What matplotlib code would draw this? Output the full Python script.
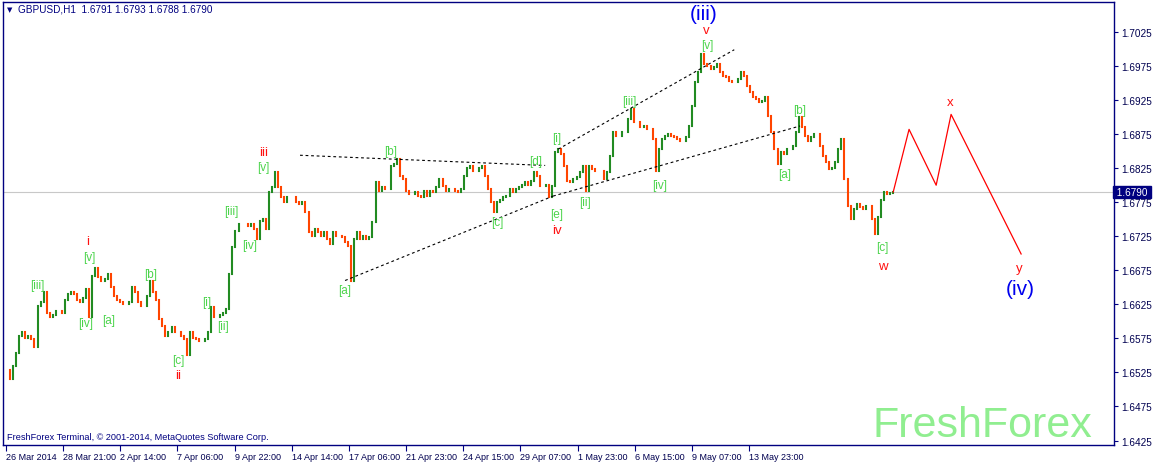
import matplotlib
matplotlib.use("Agg")
import matplotlib.pyplot as plt
from matplotlib.collections import LineCollection
import matplotlib.transforms as mtransforms

# ---- data ---------------------------------------------------------------
# closing prices, one value per drawn bar (left to right)
closes = [
    1.6529, 1.6515, 1.6534, 1.6554, 1.6578, 1.6584, 1.6576, 1.6578, 1.6574, 1.6563,
    1.6622, 1.6628, 1.6643, 1.6613, 1.6607, 1.6610, 1.6615, 1.6615, 1.6613, 1.6632,
    1.6640, 1.6643, 1.6640, 1.6632, 1.6629, 1.6635, 1.6647, 1.6607, 1.6666, 1.6679,
    1.6665, 1.6659, 1.6662, 1.6669, 1.6650, 1.6637, 1.6632, 1.6628, 1.6625, 1.6625,
    1.6629, 1.6650, 1.6643, 1.6628, 1.6622, 1.6622, 1.6637, 1.6659, 1.6643, 1.6632,
    1.6603, 1.6593, 1.6578, 1.6585, 1.6591, 1.6585, 1.6584, 1.6578, 1.6574, 1.6551,
    1.6584, 1.6576, 1.6574, 1.6571, 1.6571, 1.6574, 1.6584, 1.6621, 1.6606, 1.6606,
    1.6610, 1.6613, 1.6618, 1.6669, 1.6709, 1.6732,
    1.6743, 1.6743, 1.6743, 1.6740, 1.6743, 1.6735, 1.6721, 1.6747, 1.6750, 1.6735,
    1.6790, 1.6797, 1.6819, 1.6797, 1.6782, 1.6776, 1.6782, 1.6782, 1.6782, 1.6775,
    1.6772, 1.6776, 1.6760, 1.6731, 1.6725, 1.6735, 1.6731, 1.6725, 1.6731, 1.6721,
    1.6713, 1.6731, 1.6725, 1.6725, 1.6724, 1.6716, 1.6710, 1.6659, 1.6721, 1.6731,
    1.6721, 1.6725, 1.6721, 1.6724, 1.6746, 1.6804, 1.6791, 1.6797, 1.6794, 1.6794,
    1.6828, 1.6831, 1.6838, 1.6813, 1.6809, 1.6791, 1.6787, 1.6787, 1.6790, 1.6784,
    1.6782, 1.6791, 1.6784, 1.6791, 1.6790, 1.6797, 1.6809, 1.6799, 1.6791, 1.6794,
    1.6794, 1.6791, 1.6790, 1.6794, 1.6813, 1.6826, 1.6828, 1.6821, 1.6821, 1.6826,
    1.6828, 1.6813, 1.6794, 1.6775, 1.6760, 1.6776, 1.6779, 1.6782, 1.6784, 1.6794,
    1.6790, 1.6794, 1.6797, 1.6801, 1.6804, 1.6801, 1.6806, 1.6819, 1.6813, 1.6799,
    1.6799, 1.6801, 1.6782, 1.6799, 1.6849, 1.6853, 1.6846, 1.6828, 1.6806, 1.6804,
    1.6809, 1.6812, 1.6819, 1.6828, 1.6791, 1.6828, 1.6824, 1.6821, 1.6821, 1.6821,
    1.6809, 1.6819, 1.6843, 1.6878, 1.6872, 1.6872, 1.6878, 1.6878, 1.6897, 1.6912,
    1.6893, 1.6893, 1.6885, 1.6887, 1.6882, 1.6882, 1.6868, 1.6821, 1.6853, 1.6868,
    1.6872, 1.6875,
    1.6872, 1.6871, 1.6868, 1.6865, 1.6865, 1.6871, 1.6887, 1.6916, 1.6951, 1.6966,
    1.6993, 1.6978, 1.6975, 1.6971, 1.6974, 1.6978, 1.6966, 1.6960, 1.6959, 1.6953,
    1.6951, 1.6951, 1.6956, 1.6966, 1.6960, 1.6946, 1.6937, 1.6929, 1.6926, 1.6922,
    1.6924, 1.6929, 1.6901, 1.6878, 1.6853, 1.6831, 1.6849, 1.6846, 1.6853, 1.6853,
    1.6857, 1.6878, 1.6900, 1.6885, 1.6872, 1.6865, 1.6871, 1.6875, 1.6875, 1.6857,
    1.6843, 1.6834, 1.6824, 1.6826, 1.6834, 1.6853, 1.6868, 1.6809, 1.6769, 1.6750,
    1.6765, 1.6772, 1.6768, 1.6765, 1.6769, 1.6769, 1.6750, 1.6728, 1.6754, 1.6779,
    1.6790, 1.6787, 1.6788, 1.6790,
]

time_labels = ["26 Mar 2014", "28 Mar 21:00", "2 Apr 14:00", "7 Apr 06:00",
               "9 Apr 22:00", "14 Apr 14:00", "17 Apr 06:00", "21 Apr 23:00",
               "24 Apr 15:00", "29 Apr 07:00", "1 May 23:00", "6 May 15:00",
               "9 May 07:00", "13 May 23:00"]

price_ticks = [1.6425, 1.6475, 1.6525, 1.6575, 1.6625, 1.6675, 1.6725,
               1.6775, 1.6825, 1.6875, 1.6925, 1.6975, 1.7025]

last_price = 1.6790
header = "GBPUSD,H1  1.6791 1.6793 1.6788 1.6790"

# wave labels: (text, bar position, price)
green_labels = [
    ("[iii]", 9.9, 1.6654), ("[v]", 26.9, 1.6694), ("[iv]", 25.9, 1.6597),
    ("[a]", 33.5, 1.6602), ("[b]", 47.0, 1.6669), ("[c]", 56.2, 1.6543),
    ("[i]", 65.4, 1.6628), ("[ii]", 70.9, 1.6593), ("[iii]", 73.6, 1.6762),
    ("[iv]", 79.8, 1.6712), ("[v]", 84.1, 1.6827), ("[a]", 111.0, 1.6646),
    ("[b]", 126.1, 1.6850), ("[c]", 160.9, 1.6746), ("[d]", 173.7, 1.6835),
    ("[e]", 180.6, 1.6757), ("[i]", 180.6, 1.6869), ("[ii]", 189.8, 1.6775),
    ("[iii]", 204.3, 1.6924), ("[iv]", 214.4, 1.6800), ("[v]", 229.9, 1.7006),
    ("[a]", 255.2, 1.6816), ("[b]", 260.1, 1.6910), ("[c]", 287.4, 1.6709),
]
red_labels = [
    ("i", 26.6, 1.6718), ("ii", 56.2, 1.6521), ("iii", 84.1, 1.6849),
    ("iv", 180.6, 1.6734), ("v", 229.6, 1.7028), ("w", 287.7, 1.6682),
    ("x", 309.7, 1.6922), ("y", 332.3, 1.6679),
]
blue_labels = [("(iii)", 228.6, 1.7052), ("(iv)", 332.7, 1.6649)]

# dotted channel / triangle lines: ((x0, p0), (x1, p1))
trend_lines = [
    ((96.2, 1.6844), (176.7, 1.6829)),
    ((111.0, 1.6660), (179.3, 1.6784)),
    ((179.3, 1.6784), (260.4, 1.6887)),
    ((181.0, 1.6853), (238.8, 1.6999)),
]

# projected w-x-y path
proj_x = [291, 296.2, 305.1, 310.0, 333.0]
proj_p = [1.6790, 1.6882, 1.6800, 1.6904, 1.6699]

# ---- figure --------------------------------------------------------------
W, H = 1154, 464
NAVY = "#000080"
fig = plt.figure(figsize=(W / 100, H / 100), dpi=100)
ax = fig.add_axes([2.5 / W, 1 - 446 / H, (1114 - 2.5) / W, (446 - 3) / H])

ax.set_xlim(-1.5, 363.5)
ax.set_ylim(1.64184, 1.70691)

# current price line
ax.axhline(last_price, color="#c8c8c8", lw=0.8, zorder=1)

# bars: open = previous close
segs, cols = [], []
for i, c in enumerate(closes):
    o = closes[i - 1] if i > 0 else c
    segs.append([(i, o), (i, c)])
    if c > o:
        cols.append("#228b22")
    elif c < o:
        cols.append("#ff4500")
    else:
        cols.append("black")
ax.add_collection(LineCollection(segs, colors=cols, linewidths=1.5,
                                 capstyle="projecting", zorder=3))

for (x0, p0), (x1, p1) in trend_lines:
    ax.plot([x0, x1], [p0, p1], color="black", lw=0.8,
            linestyle=(0, (2.5, 2.5)), zorder=4)

ax.plot(proj_x, proj_p, color="red", lw=0.9, zorder=4)

for t, x, p in green_labels:
    ax.text(x, p, t, color="#4cd44c", fontsize=8.5, ha="center", va="center",
            family="Liberation Sans", zorder=5)
for t, x, p in red_labels:
    ax.text(x, p, t, color="#ff1010", fontsize=9.5, ha="center", va="center",
            family="Liberation Sans", zorder=5)
for t, x, p in blue_labels:
    ax.text(x, p, t, color="#0000ee", fontsize=15, ha="center", va="center",
            family="Liberation Sans", zorder=5)

# axes styling
for s in ax.spines.values():
    s.set_color(NAVY)
    s.set_linewidth(1.0)

ax.yaxis.tick_right()
ax.set_yticks(price_ticks)
ax.set_yticklabels([f"{p:.4f}" for p in price_ticks])
ax.tick_params(axis="y", direction="out", length=3, width=0.8, color=NAVY,
               labelcolor="#000050", labelsize=7.2, pad=2)

tick_first, tick_step = -0.4, 18.775
ax.set_xticks([tick_first + tick_step * k for k in range(len(time_labels))])
ax.set_xticklabels(time_labels, ha="left")
ax.tick_params(axis="x", direction="out", length=4, width=0.8, color=NAVY,
               labelcolor="#000050", labelsize=6.5, pad=1)
for lab in ax.get_xticklabels() + ax.get_yticklabels():
    lab.set_family("Liberation Sans")

# current price tag
tr = mtransforms.blended_transform_factory(ax.transAxes, ax.transData)
ax.text(1.0, last_price, " 1.6790 ", transform=tr, ha="left", va="center",
        color="white", fontsize=7.2, family="Liberation Sans", clip_on=False,
        bbox=dict(boxstyle="square,pad=0.1", fc=NAVY, ec=NAVY), zorder=6)

# header, copyright, watermark
fig.text(7 / W, 1 - 10 / H, "\u25bc", color=NAVY, fontsize=5, va="center",
         family="DejaVu Sans")
fig.text(18 / W, 1 - 10 / H, header, color=NAVY, fontsize=7.2, va="center",
         family="Liberation Sans")
fig.text(7 / W, 1 - 438 / H, "FreshForex Terminal, \u00a9 2001-2014, MetaQuotes Software Corp.",
         color=NAVY, fontsize=6.6, va="center", family="Liberation Sans")
fig.text(872 / W, 1 - 437 / H, "FreshForex", color="#90ee90", fontsize=31,
         ha="left", va="baseline", family="Liberation Sans")

fig.savefig("out.png", dpi=100, facecolor="white")
